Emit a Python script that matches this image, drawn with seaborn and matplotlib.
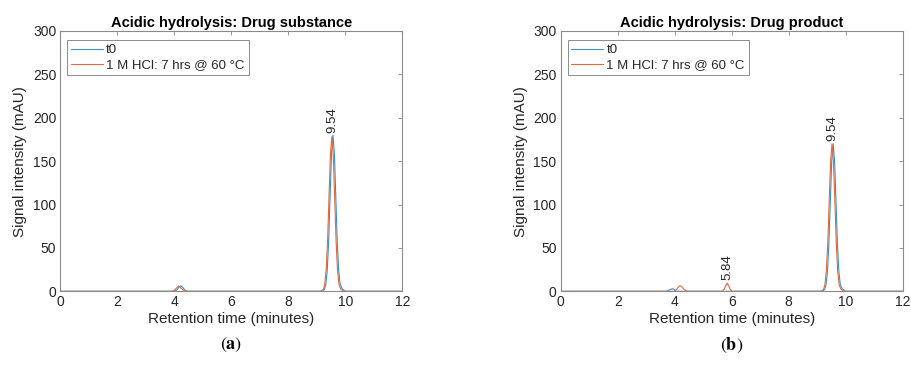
import matplotlib
matplotlib.use("Agg")
import matplotlib.pyplot as plt
import pandas as pd
import seaborn as sns

# ---- chromatogram traces (retention time in minutes, signal in mAU) ----
# (a) drug substance
a_t0_time = [0, 4.00, 4.08, 4.15, 4.22, 4.29, 4.36, 4.45,
             9.16, 9.26, 9.31, 9.36, 9.41, 9.46, 9.51, 9.56, 9.61, 9.66,
             9.71, 9.76, 9.81, 9.88, 10.00, 12]
a_t0_signal = [0, 0, 1.5, 4.5, 6.5, 4.5, 1.5, 0,
               0, 2, 8, 24, 58, 109, 159, 180, 159, 109,
               58, 24, 9, 3, 0, 0]
a_acid_time = [0, 3.92, 4.00, 4.08, 4.15, 4.22, 4.30, 4.40,
               9.12, 9.22, 9.27, 9.32, 9.37, 9.42, 9.47, 9.52, 9.57, 9.62,
               9.67, 9.72, 9.77, 9.84, 9.95, 12]
a_acid_signal = [0, 0, 1.5, 4, 6, 4, 1.5, 0,
                 0, 2, 8, 24, 57, 108, 157, 178, 157, 108,
                 57, 24, 8, 2, 0, 0]

# (b) drug product
b_t0_time = [0, 3.70, 3.82, 3.92, 3.98, 4.06,
             9.16, 9.26, 9.31, 9.36, 9.41, 9.46, 9.51, 9.56, 9.61, 9.66,
             9.71, 9.76, 9.81, 9.88, 10.00, 12]
b_t0_signal = [0, 0, 1.5, 3, 2, 0,
               0, 2, 7.5, 23, 55, 103, 150, 170, 150, 103,
               55, 23, 8, 3, 0, 0]
b_acid_time = [0, 3.98, 4.06, 4.13, 4.19, 4.26, 4.33, 4.42,
               5.66, 5.74, 5.79, 5.84, 5.89, 5.94, 6.02,
               9.12, 9.22, 9.27, 9.32, 9.37, 9.42, 9.47, 9.52, 9.57, 9.62,
               9.67, 9.72, 9.77, 9.84, 9.95, 12]
b_acid_signal = [0, 0, 2, 5, 6.5, 5, 2, 0,
                 0, 2.5, 6.5, 9.5, 6.5, 2.5, 0,
                 0, 2, 7.5, 23, 55, 103, 150, 170, 150, 103,
                 55, 23, 7.5, 2, 0, 0]

series_names = ["t0", "1 M HCl: 7 hrs @ 60 \u00b0C"]
series_colors = ["#3f8fcc", "#e06a3a"]

titles = ["Acidic hydrolysis: Drug substance", "Acidic hydrolysis: Drug product"]
panel_tags = ["a", "b"]
peak_labels = [[(9.54, 180, "9.54")],
               [(5.84, 9.5, "5.84"), (9.54, 170, "9.54")]]

x_ticks = [0, 2, 4, 6, 8, 10, 12]
y_ticks = [0, 50, 100, 150, 200, 250, 300]


def trace_frame(time, signal, name):
    return pd.DataFrame({"time": time, "signal": signal, "series": name})


panel_data = [
    pd.concat([trace_frame(a_t0_time, a_t0_signal, series_names[0]),
               trace_frame(a_acid_time, a_acid_signal, series_names[1])]),
    pd.concat([trace_frame(b_t0_time, b_t0_signal, series_names[0]),
               trace_frame(b_acid_time, b_acid_signal, series_names[1])]),
]

sns.set_style("white")
plt.rcParams["font.family"] = ["Liberation Sans", "DejaVu Sans"]
plt.rcParams["mathtext.fontset"] = "stix"

fig = plt.figure(figsize=(9.12, 3.76), dpi=100)
axes_boxes = [[60.5 / 912, 1 - 291.3 / 376, 342 / 912, 260.3 / 376],
              [560.7 / 912, 1 - 291.3 / 376, 342 / 912, 260.3 / 376]]

axis_grey = "#8a8a8a"
text_dark = "#262626"

for box, df, title, tag, labels in zip(axes_boxes, panel_data, titles,
                                       panel_tags, peak_labels):
    ax = fig.add_axes(box)
    sns.lineplot(data=df, x="time", y="signal", hue="series",
                 hue_order=series_names, palette=series_colors,
                 estimator=None, sort=False, linewidth=0.8, ax=ax)
    ax.set_xlim(0, 12)
    ax.set_ylim(0, 300)
    ax.set_xticks(x_ticks)
    ax.set_yticks(y_ticks)
    ax.tick_params(direction="in", top=True, right=True, length=3,
                   width=0.6, color=axis_grey, labelsize=10,
                   labelcolor=text_dark, pad=3)
    for sp in ax.spines.values():
        sp.set_color(axis_grey)
        sp.set_linewidth(0.8)
    ax.set_xlabel("Retention time (minutes)", fontsize=11, color=text_dark,
                  labelpad=2)
    ax.set_ylabel("Signal intensity (mAU)", fontsize=11, color=text_dark,
                  labelpad=4)
    ax.set_title(title, fontsize=10.5, fontweight="bold", color="black",
                 pad=3)
    for x, y, s in labels:
        ax.text(x, y + 3, s, rotation=90, ha="center", va="bottom",
                fontsize=9.5, color=text_dark)
    leg = ax.legend(loc="upper left", bbox_to_anchor=(0.02, 0.965),
                    fontsize=9.5, frameon=True, fancybox=False,
                    handlelength=2.4, handletextpad=0.25,
                    borderpad=0.3, labelspacing=0.2, borderaxespad=0)
    leg.get_frame().set_edgecolor("#6e6e6e")
    leg.get_frame().set_linewidth(0.7)
    for line in leg.get_lines():
        line.set_linewidth(0.8)
    cx = box[0] + box[2] / 2
    fig.text(cx, 1 - 345 / 376, r"($\mathbf{" + tag + r"}$)", ha="center",
             va="center", fontsize=13, family="STIXGeneral", color="black")

fig.savefig("out.png", dpi=100)
